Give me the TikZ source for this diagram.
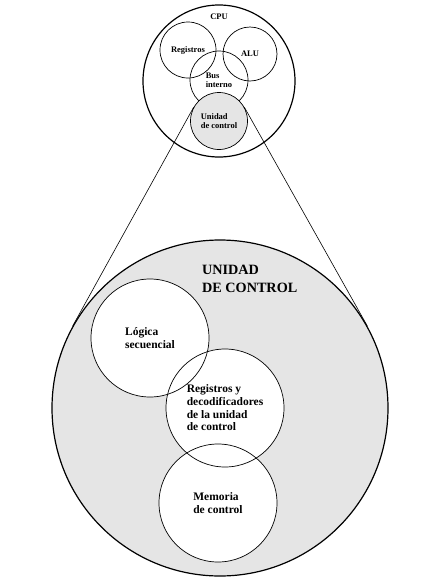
\documentclass[tikz,border=0pt]{standalone}
\usepackage{fontspec}
\setmainfont{Liberation Serif}

\begin{document}
\begin{tikzpicture}[x=1pt,y=-1pt]
    \tikzstyle{whole}=[circle,draw=black,line width=1.2pt,inner sep=0pt]
    \tikzstyle{part}=[circle,draw=black,line width=0.7pt,inner sep=0pt,align=left,font=\fontsize{8.5}{9.2}\selectfont\bfseries]
    \tikzstyle{block}=[circle,fill=white,inner sep=0pt,minimum size=118pt,align=left,font=\fontsize{11.5}{12.7}\selectfont\bfseries]
    \tikzstyle{edge}=[draw=black,line width=0.6pt,-]

    \def\rin{59}

    \useasboundingbox (0,0) rectangle (441,579);

    % CPU
    \node[whole,minimum size=152pt,
          label={[label distance=-19pt,font=\fontsize{8.5}{9.2}\selectfont\bfseries]90:CPU}] (cpu) at (219,81) {};
    \node[part,minimum size=56pt] (reg) at (188,50) {Registros};
    \node[part,minimum size=54pt] (alu) at (250,54) {ALU};
    \node[part,minimum size=58pt] (bus) at (219,80) {Bus\\interno};
    \node[part,fill=gray!20,minimum size=57pt] (uc) at (219,121) {Unidad\\de control};

    % unidad de control ampliada
    \node[whole,fill=gray!20,minimum size=336pt] (ucbig) at (220,408) {};
    \node[anchor=west,inner sep=0pt,align=left,font=\fontsize{14.2}{18}\selectfont\bfseries] (title) at (202,279) {UNIDAD\\DE CONTROL};

    \node[block] (seq) at (150,338) {L\'ogica\\secuencial};
    \node[block] (dec) at (225,408) {Registros y\\decodificadores\\de la unidad\\de control};
    \node[block] (mem) at (218,503) {Memoria\\de control};
    \foreach \n in {seq,dec,mem}
        \draw[line width=0.7pt] (\n.center) circle (\rin);

    \path[edge] (uc.151) -- (ucbig.151);
    \path[edge] (uc.29) -- (ucbig.29);
\end{tikzpicture}
\end{document}
